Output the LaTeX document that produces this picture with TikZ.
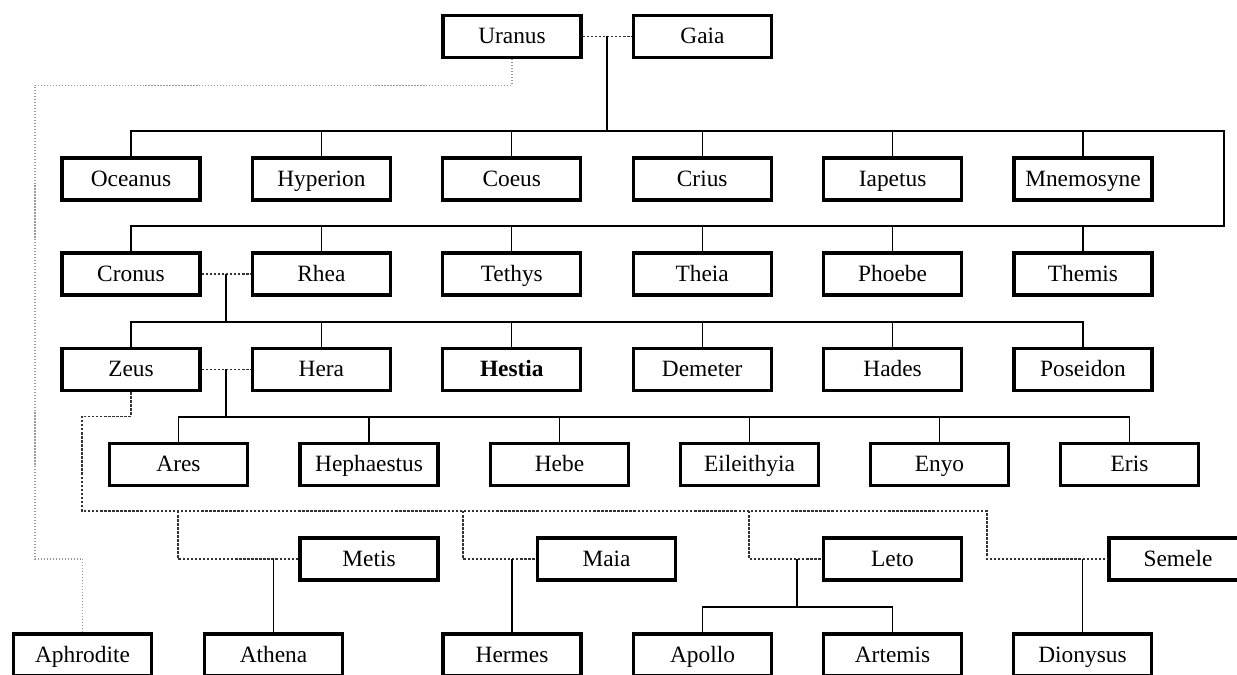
\documentclass[tikz,border=0pt]{standalone}
\usepackage{fontspec}
\setmainfont{Liberation Serif}

\tikzset{
  god/.style={draw, line width=1.9pt, minimum width=2.76cm, minimum height=0.84cm,
    inner sep=0pt, text height=2ex, text depth=0.15ex,
    font=\fontsize{13.3}{15}\selectfont},
  kin/.style={line width=0.6pt},
  wed/.style={line width=0.6pt, black!80, dash pattern=on 1.4pt off 0.9pt},
  foam/.style={line width=0.7pt, gray!80, densely dotted}
}

\begin{document}
\begin{tikzpicture}[x=0.02cm, y=-0.02cm]
    \useasboundingbox (0,0) rectangle (1237,675);

    % First couple
    \node[god] (uranus) at (512,36.5) {Uranus};
    \node[god] (gaia) at (702.5,36.5) {Gaia};

    % Titans
    \node[god] (oceanus) at (131,179) {Oceanus};
    \node[god] (hyperion) at (321.4,179) {Hyperion};
    \node[god] (coeus) at (511.8,179) {Coeus};
    \node[god] (crius) at (702.2,179) {Crius};
    \node[god] (iapetus) at (892.6,179) {Iapetus};
    \node[god] (mnemosyne) at (1083,179) {Mnemosyne};

    % Titanesses
    \node[god] (cronus) at (131,274) {Cronus};
    \node[god] (rhea) at (321.4,274) {Rhea};
    \node[god] (tethys) at (511.8,274) {Tethys};
    \node[god] (theia) at (702.2,274) {Theia};
    \node[god] (phoebe) at (892.6,274) {Phoebe};
    \node[god] (themis) at (1083,274) {Themis};

    % Children of Cronus and Rhea
    \node[god] (zeus) at (131,369.5) {Zeus};
    \node[god] (hera) at (321.4,369.5) {Hera};
    \node[god] (hestia) at (511.8,369.5) {\textbf{Hestia}};
    \node[god] (demeter) at (702.2,369.5) {Demeter};
    \node[god] (hades) at (892.6,369.5) {Hades};
    \node[god] (poseidon) at (1083,369.5) {Poseidon};

    % Children of Zeus and Hera
    \node[god] (ares) at (178.5,464.5) {Ares};
    \node[god] (hephaestus) at (369,464.5) {Hephaestus};
    \node[god] (hebe) at (559.5,464.5) {Hebe};
    \node[god] (eileithyia) at (749.5,464.5) {Eileithyia};
    \node[god] (enyo) at (939.5,464.5) {Enyo};
    \node[god] (eris) at (1129.5,464.5) {Eris};

    % Other partners of Zeus
    \node[god] (metis) at (369,559) {Metis};
    \node[god] (maia) at (606.5,559) {Maia};
    \node[god] (leto) at (892.5,559) {Leto};
    \node[god] (semele) at (1178,559) {Semele};

    % Last generation
    \node[god] (aphrodite) at (82.5,655) {Aphrodite};
    \node[god] (athena) at (273.5,655) {Athena};
    \node[god] (hermes) at (512,655) {Hermes};
    \node[god] (apollo) at (702.5,655) {Apollo};
    \node[god] (artemis) at (892.5,655) {Artemis};
    \node[god] (dionysus) at (1082.5,655) {Dionysus};

    % Junction points
    \coordinate (ug) at (607,36.5);
    \coordinate (rimtop) at (1224,131);
    \coordinate (rimbot) at (1224,226);
    \coordinate (cr) at (226,274);
    \coordinate (crbar) at (226,322);
    \coordinate (zh) at (226,369.5);
    \coordinate (zhbar) at (226,417);
    \coordinate (affair) at (82,511);
    \coordinate (affairend) at (987,511);
    \coordinate (tometis) at (178,511);
    \coordinate (tomaia) at (463,511);
    \coordinate (toleto) at (749,511);
    \coordinate (lt) at (797,559);
    \coordinate (ltbar) at (797,607);
    \coordinate (sea) at (35,559);

    % Draw Uranus and Gaia with their children
    \draw[wed] (uranus) -- (gaia);
    \draw[kin] (ug) -- (ug |- rimtop);
    \draw[kin] (oceanus.north) |- (rimtop) -- (rimbot) -| (cronus.north);
    \foreach \n in {hyperion, coeus, crius, iapetus, mnemosyne}
        \draw[kin] (\n.north) -- (\n.north |- rimtop);
    \foreach \n in {rhea, tethys, theia, phoebe, themis}
        \draw[kin] (\n.north) -- (\n.north |- rimbot);

    % Draw Cronus and Rhea with their children
    \draw[wed] (cronus) -- (rhea);
    \draw[kin] (cr) -- (crbar);
    \draw[kin] (zeus.north) |- (crbar) -| (poseidon.north);
    \foreach \n in {hera, hestia, demeter, hades}
        \draw[kin] (\n.north) -- (\n.north |- crbar);

    % Draw Zeus and Hera with their children
    \draw[wed] (zeus) -- (hera);
    \draw[kin] (zh) -- (zhbar);
    \draw[kin] (ares.north) |- (zhbar) -| (eris.north);
    \foreach \n in {hephaestus, hebe, eileithyia, enyo}
        \draw[kin] (\n.north) -- (\n.north |- zhbar);

    % Draw the other unions of Zeus
    \draw[wed] (zeus.south) -- ++(0,24) -| (affair) -- (affairend) |- (semele.west);
    \draw[wed] (tometis) |- (metis.west);
    \draw[wed] (tomaia) |- (maia.west);
    \draw[wed] (toleto) |- (leto.west);

    % Draw their children
    \draw[kin] (athena.north) -- (athena.north |- metis.west);
    \draw[kin] (hermes.north) -- (hermes.north |- maia.west);
    \draw[kin] (lt) -- (ltbar);
    \draw[kin] (apollo.north) |- (ltbar) -| (artemis.north);
    \draw[kin] (dionysus.north) -- (dionysus.north |- semele.west);

    % Aphrodite from Uranus
    \draw[foam] (uranus.south) -- ++(0,26) -| (sea) -| (aphrodite.north);
\end{tikzpicture}
\end{document}
